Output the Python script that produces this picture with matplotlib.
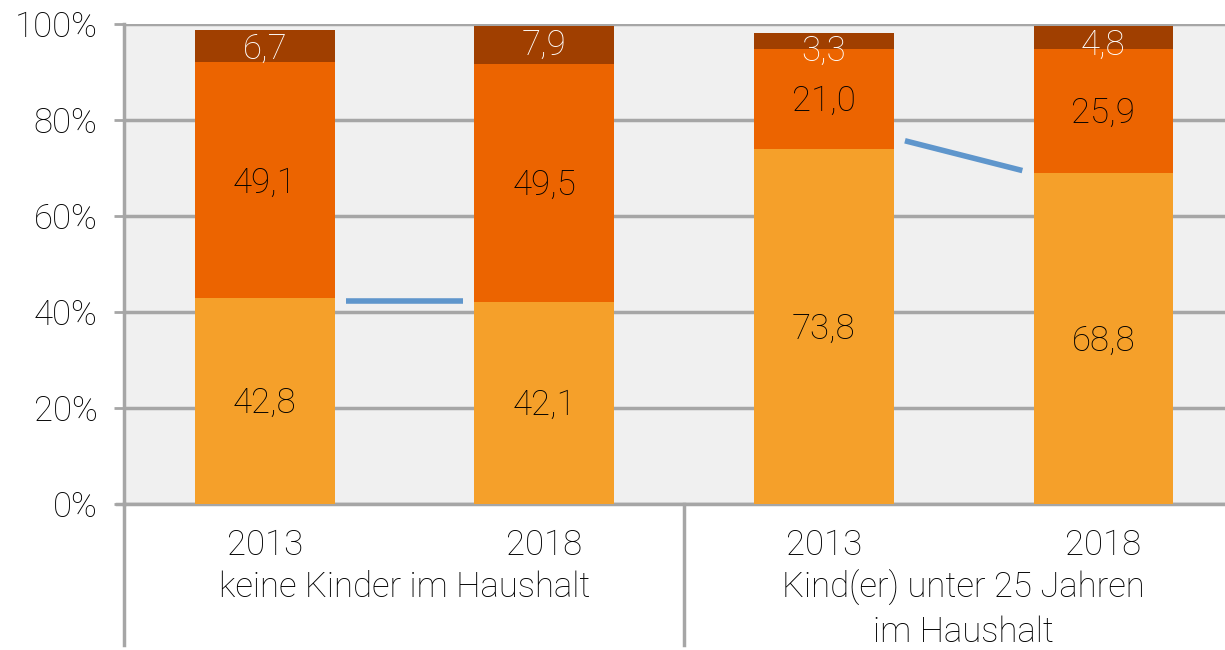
import numpy as np
import matplotlib.pyplot as plt
import matplotlib.transforms as mtransforms

plt.rcParams['font.family'] = ['Roboto', 'DejaVu Sans']
plt.rcParams['font.weight'] = 'light'

# data
years = ['2013', '2018', '2013', '2018']
groups = ['keine Kinder im Haushalt', 'Kind(er) unter 25 Jahren\nim Haushalt']
seg_low = [42.8, 42.1, 73.8, 68.8]
seg_mid = [49.1, 49.5, 21.0, 25.9]
seg_top = [6.7, 7.9, 3.3, 4.8]
line1 = [42.3, 42.3]
line2 = [75.6, 69.4]

col_low = '#F5A02A'
col_mid = '#EC6400'
col_top = '#A03F00'
grid_col = '#A6A6A6'
fs = 25

fig = plt.figure(figsize=(12.25, 6.5), dpi=100)
ax = fig.add_axes([0.1012, 0.2246, 0.8988, 0.7392])
ax.set_facecolor('#F0F0F0')

x = np.arange(len(years))
low = np.array(seg_low)
mid = np.array(seg_mid)
top = np.array(seg_top)
w = 0.5
ax.bar(x, low, w, color=col_low, zorder=3)
ax.bar(x, mid, w, bottom=low, color=col_mid, zorder=3)
ax.bar(x, top, w, bottom=low + mid, color=col_top, zorder=3)

def fmt(v):
    return ('%.1f' % v).replace('.', ',')

# labels stay inside the bar (top label pushed down if segment is thin)
half_txt = 3.9
for i in range(len(x)):
    ax.text(x[i], low[i] / 2 - 0.4, fmt(low[i]), ha='center', va='center', fontsize=fs, color='black', zorder=4)
    ax.text(x[i], low[i] + mid[i] / 2 - 0.5, fmt(mid[i]), ha='center', va='center', fontsize=fs, color='black', zorder=4)
    cum = low[i] + mid[i] + top[i]
    ty = min(low[i] + mid[i] + top[i] / 2, cum - half_txt)
    ax.text(x[i], ty, fmt(top[i]), ha='center', va='center', fontsize=fs, color='white', zorder=4)

# blue connector lines
ax.plot([0.29, 0.71], line1, color='#5F96CC', lw=4, zorder=4, solid_capstyle='butt')
ax.plot([2.29, 2.71], line2, color='#5F96CC', lw=4, zorder=4, solid_capstyle='butt')

ax.set_xlim(-0.504, 3.435)
ax.set_ylim(0, 100)
ax.set_yticks(np.arange(0, 101, 20))
ax.set_yticklabels(['%d%%' % v for v in range(0, 101, 20)], fontsize=fs)
ax.yaxis.grid(True, color=grid_col, lw=2.5, zorder=1)
ax.tick_params(axis='y', length=7, width=2, color=grid_col, pad=12)
ax.set_xticks([])
for s in ['top', 'right']:
    ax.spines[s].set_visible(False)
ax.spines['left'].set_color(grid_col)
ax.spines['left'].set_linewidth(2.5)
ax.spines['bottom'].set_color(grid_col)
ax.spines['bottom'].set_linewidth(2.5)

# category axis below
trans = mtransforms.blended_transform_factory(ax.transData, ax.transAxes)
for i in range(len(years)):
    ax.text(x[i], -0.085, years[i], transform=trans, ha='center', va='center', fontsize=fs)
for g in range(len(groups)):
    lines = groups[g].split('\n')
    for k in range(len(lines)):
        ax.text(2 * g + 0.5, -0.174 - 0.092 * k, lines[k], transform=trans,
                ha='center', va='center', fontsize=fs)
ax.plot([-0.504, -0.504], [0, -0.2925], transform=trans, color=grid_col, lw=2.5, clip_on=False)
ax.plot([1.5, 1.5], [0, -0.2925], transform=trans, color=grid_col, lw=2.5, clip_on=False)
ax.plot([-0.53, -0.504], [0, 0], transform=trans, color=grid_col, lw=2.5, clip_on=False)

fig.savefig('out.png', dpi=100)
